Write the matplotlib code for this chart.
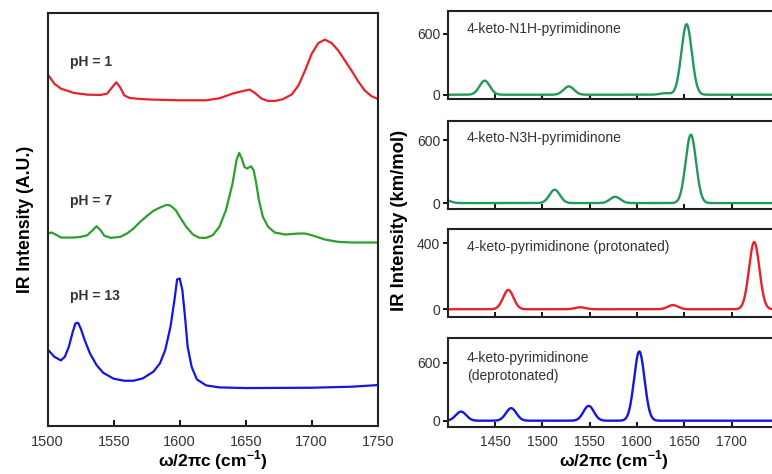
import numpy as np
import matplotlib
matplotlib.use('Agg')
import matplotlib.pyplot as plt

plt.rcParams['font.family'] = ['Liberation Sans', 'DejaVu Sans']
plt.rcParams['mathtext.fontset'] = 'custom'
plt.rcParams['mathtext.bf'] = 'Liberation Sans:bold'

# ---- left panel: measured spectra (A.U.) ----
ph1_x = [1500, 1505, 1510, 1520, 1530, 1540, 1545, 1549, 1552, 1555, 1558, 1562, 1570,
         1580, 1600, 1620, 1630, 1640, 1648, 1653, 1657, 1662, 1667, 1672, 1678, 1685,
         1690, 1695, 1700, 1705, 1710, 1715, 1720, 1725, 1730, 1735, 1740, 1745, 1750]
ph1_y = [10.55, 10.27, 10.12, 9.99, 9.94, 9.93, 9.97, 10.17, 10.31, 10.15, 9.92, 9.84, 9.81,
         9.79, 9.77, 9.77, 9.83, 9.97, 10.05, 10.09, 9.99, 9.82, 9.75, 9.75, 9.80, 9.95,
         10.22, 10.67, 11.17, 11.49, 11.59, 11.49, 11.27, 10.97, 10.67, 10.35, 10.07, 9.90, 9.81]

ph7_x = [1500, 1503, 1507, 1510, 1520, 1525, 1530, 1534, 1537, 1540, 1543, 1548, 1555,
         1560, 1565, 1570, 1575, 1580, 1585, 1590, 1593, 1597, 1600, 1605, 1610, 1615,
         1620, 1625, 1630, 1635, 1640, 1643, 1645, 1647, 1649, 1651, 1654, 1656, 1658,
         1660, 1663, 1667, 1672, 1680, 1690, 1695, 1700, 1710, 1720, 1730, 1750]
ph7_y = [5.77, 5.80, 5.72, 5.65, 5.65, 5.67, 5.72, 5.87, 5.99, 5.87, 5.70, 5.64, 5.67,
         5.77, 5.92, 6.12, 6.29, 6.45, 6.55, 6.63, 6.61, 6.47, 6.27, 5.97, 5.74, 5.64,
         5.64, 5.72, 5.97, 6.47, 7.27, 7.97, 8.19, 8.02, 7.77, 7.72, 7.79, 7.67, 7.27,
         6.77, 6.27, 5.97, 5.80, 5.74, 5.77, 5.77, 5.72, 5.59, 5.52, 5.50, 5.50]

ph13_x = [1500, 1505, 1510, 1513, 1516, 1519, 1521, 1523, 1525, 1528, 1532, 1537, 1542,
          1550, 1558, 1565, 1572, 1580, 1585, 1589, 1593, 1596, 1598, 1600, 1602, 1604,
          1606, 1609, 1613, 1620, 1630, 1650, 1700, 1730, 1750]
ph13_y = [2.29, 2.07, 1.96, 2.07, 2.37, 2.82, 3.07, 3.09, 2.92, 2.57, 2.17, 1.82, 1.59,
          1.41, 1.35, 1.35, 1.42, 1.62, 1.87, 2.27, 2.97, 3.77, 4.39, 4.42, 4.07, 3.27,
          2.37, 1.77, 1.39, 1.21, 1.15, 1.13, 1.14, 1.17, 1.22]

left_labels = ['pH = 1', 'pH = 7', 'pH = 13']
left_label_y = [10.92, 6.74, 3.89]

# ---- right panels: computed stick spectra (km/mol), broadened ----
titles = ['4-keto-N1H-pyrimidinone', '4-keto-N3H-pyrimidinone',
          '4-keto-pyrimidinone (protonated)', '4-keto-pyrimidinone\n(deprotonated)']
peak_pos = [[1439, 1528, 1630, 1652.5],
            [1397, 1513, 1577, 1657],
            [1464, 1540, 1638, 1724],
            [1414, 1467, 1549, 1602.5]]
peak_int = [[138, 82, 15, 692],
            [30, 128, 60, 656],
            [117, 12, 25, 408],
            [94, 129, 153, 715]]
right_yticks = [[0, 600], [0, 600], [0, 400], [0, 600]]
right_ylims = [(-45, 820), (-55, 790), (-50, 485), (-60, 850)]
right_colors = ['#22995a', '#22995a', '#e8222a', '#1515e0']
sigma = 5.5

red, green, blue = '#e8222a', '#2ca02c', '#1515e0'
txt = '#333333'

fig = plt.figure(figsize=(7.72, 4.74), dpi=100)

ax = fig.add_axes([0.0618, 0.1019, 0.4275, 0.8713])
ax.plot(ph1_x, ph1_y, color=red, lw=1.6)
ax.plot(ph7_x, ph7_y, color=green, lw=1.6)
ax.plot(ph13_x, ph13_y, color=blue, lw=1.6)
for lab, ly in zip(left_labels, left_label_y):
    ax.text(1517, ly, lab, fontsize=10, fontweight='bold', color=txt, va='center')
ax.set_xlim(1500, 1750)
ax.set_ylim(0, 12.4)
ax.set_yticks([])
ax.set_xticks(np.arange(1500, 1751, 50))
ax.tick_params(axis='x', direction='in', length=4, width=1.3, labelsize=10.5,
               labelcolor=txt, pad=7)
for s in ax.spines.values():
    s.set_linewidth(1.5)
    s.set_color('#222222')
ax.set_ylabel('IR Intensity (A.U.)', fontsize=12.7, fontweight='bold', labelpad=10)
ax.set_xlabel(r'ω/2πc (cm$^{\mathbf{-1}}$)', fontsize=12.5, fontweight='bold', labelpad=-0.5)

xs = np.linspace(1390, 1750, 1500)
bottoms = [0.7905, 0.5595, 0.3302, 0.1002]
for i in range(4):
    a = fig.add_axes([0.580, bottoms[i], 0.4288, 0.1859])
    spec = np.zeros_like(xs)
    for c, h in zip(peak_pos[i], peak_int[i]):
        spec += h * np.exp(-(xs - c) ** 2 / (2 * sigma ** 2))
    a.plot(xs, spec, color=right_colors[i], lw=1.7)
    a.set_xlim(1400, 1750)
    a.set_ylim(*right_ylims[i])
    a.set_yticks(right_yticks[i])
    a.set_xticks(np.arange(1450, 1751, 50))
    a.set_xticklabels([str(v) for v in range(1450, 1701, 50)] + [''])
    a.tick_params(axis='x', direction='in', length=3.5, width=1.3, labelsize=10,
                  labelcolor=txt, pad=6)
    a.tick_params(axis='y', direction='out', length=3.5, width=1.3, labelsize=10,
                  labelcolor=txt, pad=2)
    if i < 3:
        a.tick_params(axis='x', labelbottom=False)
    for s in a.spines.values():
        s.set_linewidth(1.5)
        s.set_color('#222222')
    if i < 3:
        a.text(0.058, 0.80, titles[i], transform=a.transAxes, fontsize=10, color=txt,
               va='center')
    else:
        a.text(0.058, 0.86, titles[i], transform=a.transAxes, fontsize=10, color=txt,
               va='top', linespacing=1.35)
        a.set_xlabel(r'ω/2πc (cm$^{\mathbf{-1}}$)', fontsize=12.5, fontweight='bold', labelpad=0)

fig.text(0.518, 0.535, 'IR Intensity (km/mol)', rotation=90, fontsize=13.3,
         fontweight='bold', ha='center', va='center')

fig.savefig('out.png', dpi=100)
